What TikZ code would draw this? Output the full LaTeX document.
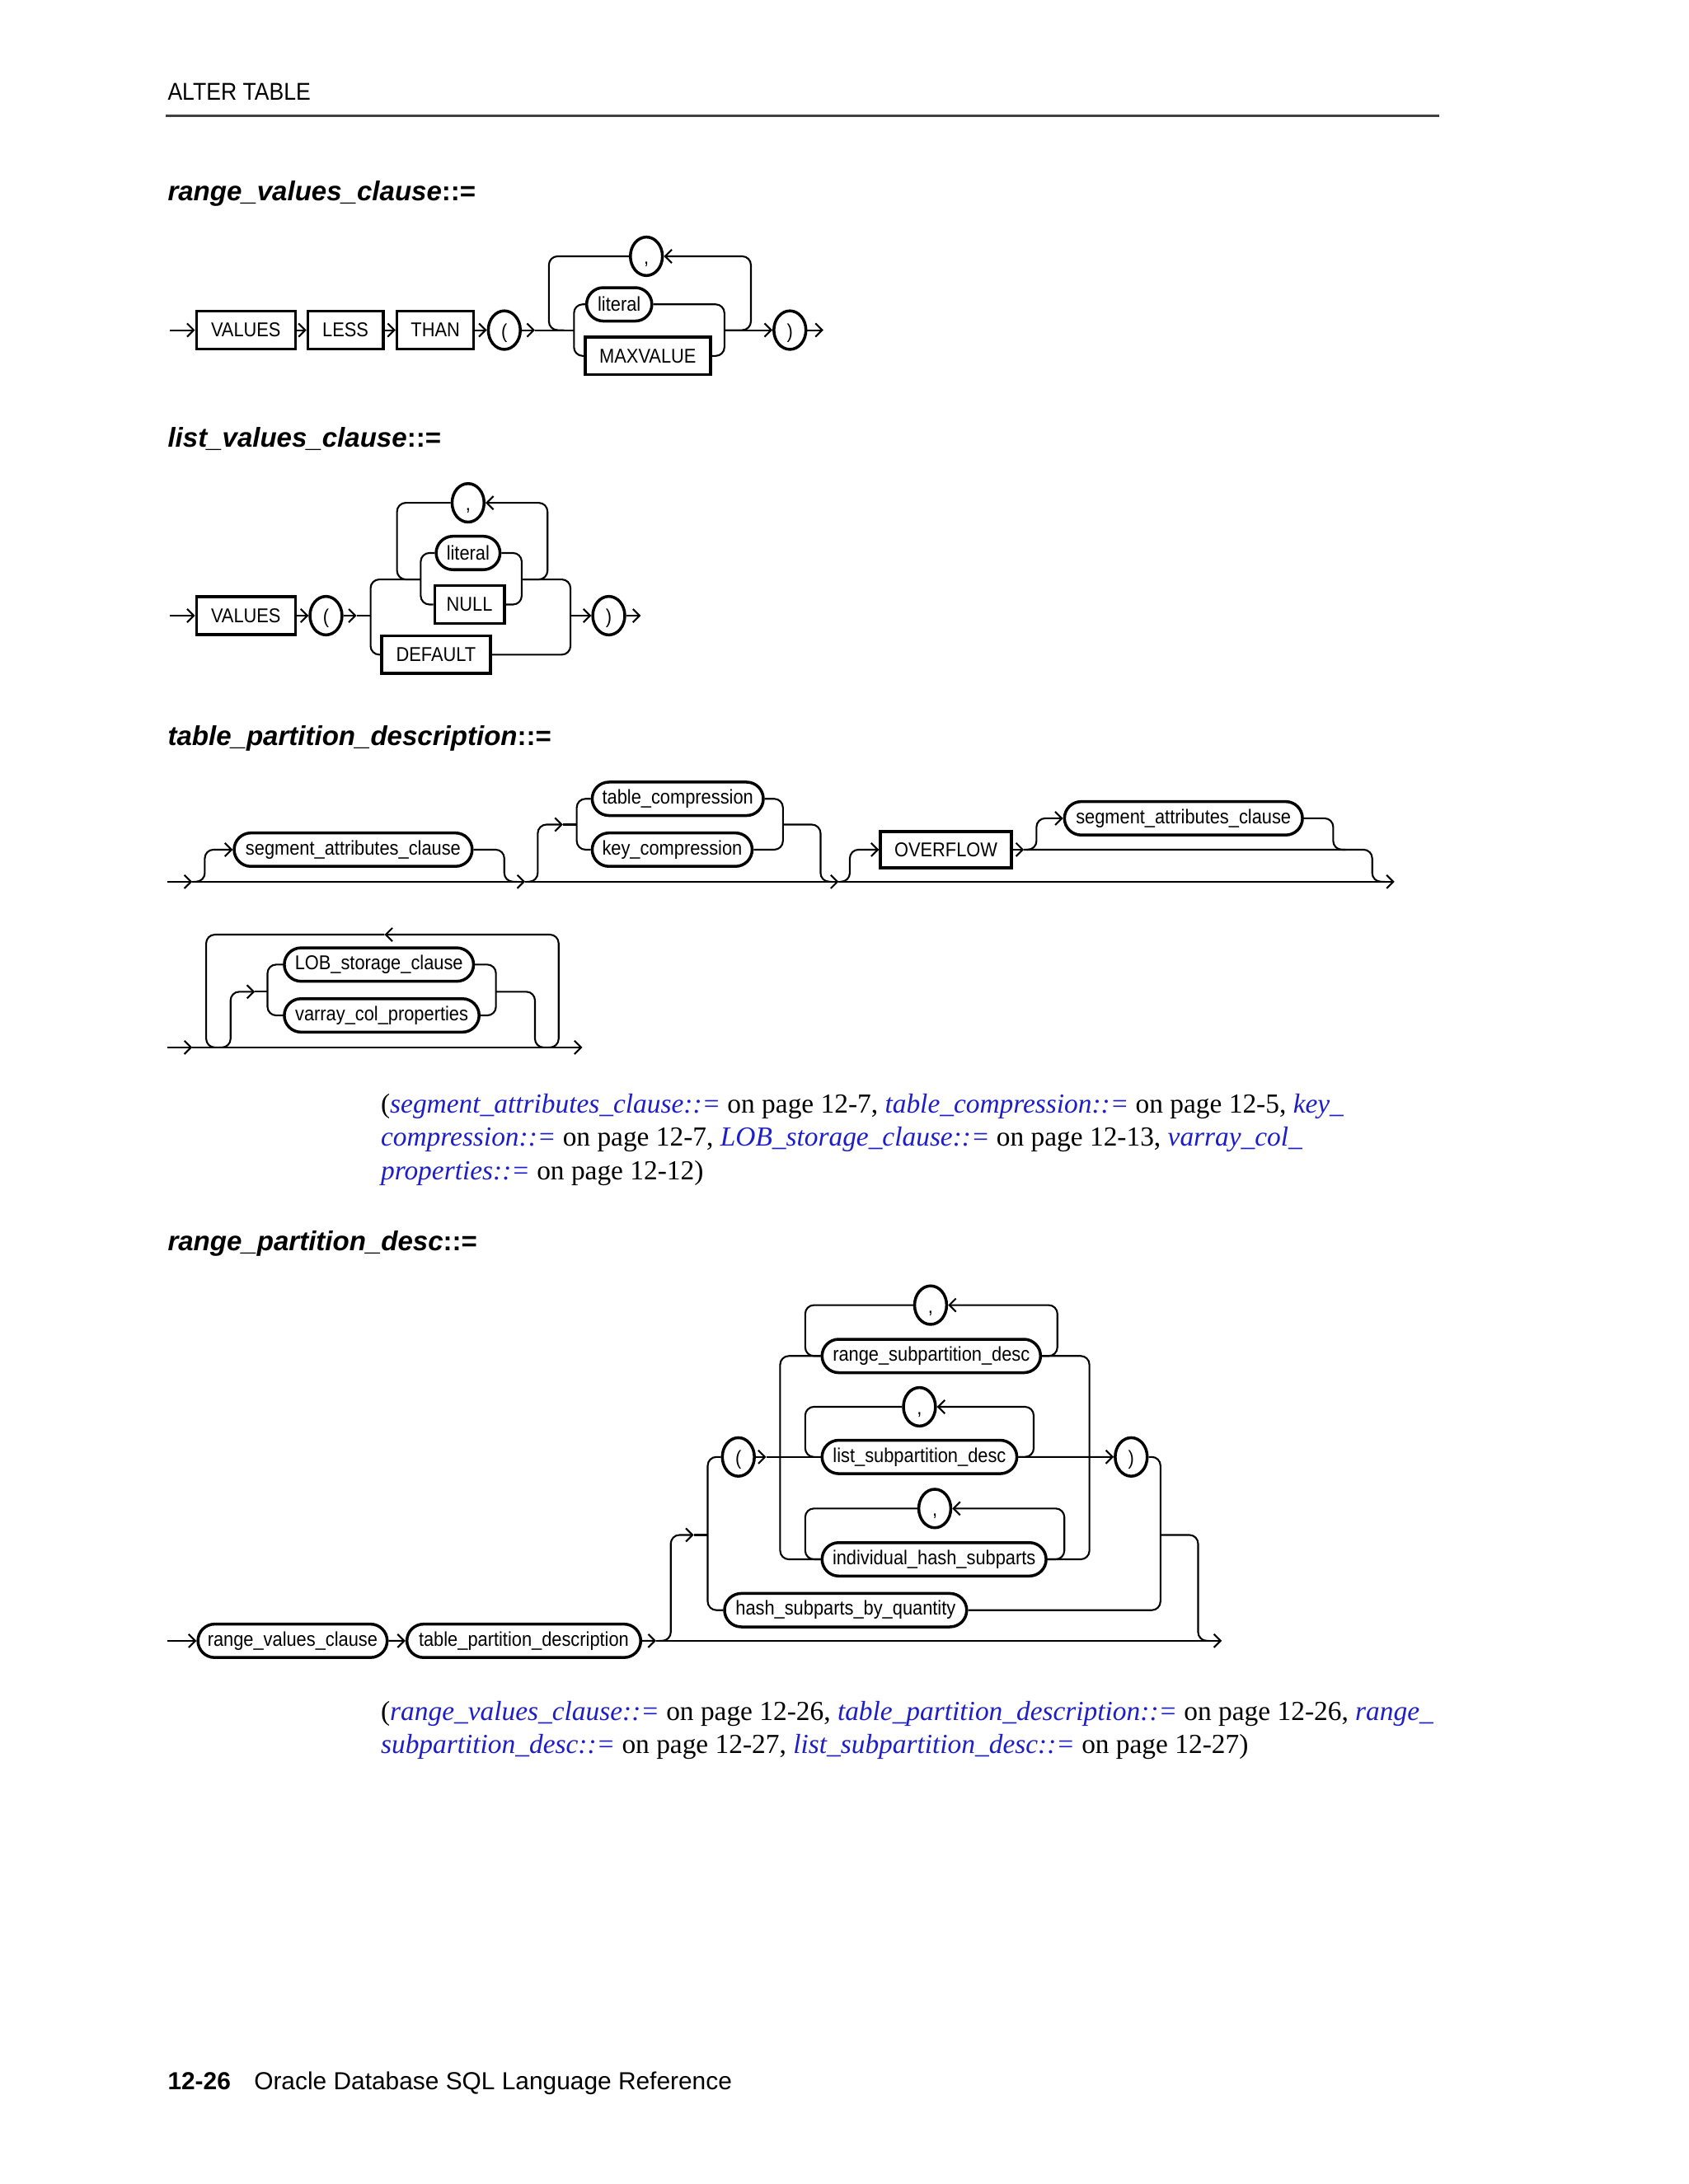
\documentclass[tikz,border=0pt]{standalone}
\usepackage{fontspec}
\usepackage{xcolor}
\usepackage{tikz}
\usetikzlibrary{arrows.meta,shapes.geometric,shapes.misc}
\setsansfont{Liberation Sans}
\newfontfamily\railfont[FakeStretch=0.9]{Liberation Sans}
\newfontfamily\notefont{Liberation Serif}
\newcommand\rpx{0.16898mm}
\definecolor{linkblue}{RGB}{30,30,200}
\newcommand\lnk[1]{\textcolor{linkblue}{\itshape #1}}

\tikzset{
  rail/.style={line width=0.6pt, rounded corners=3pt},
  railtip/.style={-{Straight Barb[length=2.3pt,width=4.6pt]}},
  kw/.style={draw, line width=1pt, rectangle, minimum height=27*\rpx, inner xsep=1pt, inner ysep=0pt, font=\railfont\fontsize{6.9}{8}\selectfont},
  nt/.style={draw, line width=1pt, rounded rectangle, minimum height=24*\rpx, inner xsep=1pt, inner ysep=0pt, font=\railfont\fontsize{6.9}{8}\selectfont},
  pun/.style={draw, line width=1pt, ellipse, minimum width=23*\rpx, minimum height=26*\rpx, inner sep=0pt, text height=0.74em, text depth=0.2em, font=\railfont\fontsize{6.9}{8}\selectfont},
  ttl/.style={anchor=base west, inner sep=0pt, font=\sffamily\bfseries\fontsize{9.4}{11}\selectfont},
  note/.style={anchor=base west, inner sep=0pt, font=\notefont\fontsize{9.5}{11}\selectfont},
}

\begin{document}
\begin{tikzpicture}[x=0.16898mm, y=-0.16898mm]
  % Page area
  \fill[white] (0,0) rectangle (1212,1568);
  \useasboundingbox (0,0) rectangle (1212,1568);
  % Running header
  \node[anchor=base west, inner sep=0pt, font=\railfont\fontsize{8.4}{10}\selectfont] (hd) at (120,72) {ALTER TABLE};
  \draw[line width=0.7pt, black!75] (119,83) -- (1033,83);

  % ---------- range_values_clause ----------
  \node[ttl] (t1) at (120,144) {{\itshape range\_values\_clause}::=};
  \node[kw, minimum width=71*\rpx] (rv1) at (176.5,237) {VALUES};
  \node[kw, minimum width=54*\rpx] (rv2) at (248,237) {LESS};
  \node[kw, minimum width=55*\rpx] (rv3) at (312.5,237) {THAN};
  \node[pun] (rv4) at (362,237) {(};
  \node[nt, minimum width=51*\rpx] (rv5) at (444.5,218.5) {literal};
  \node[kw, minimum width=90*\rpx] (rv6) at (465,255.5) {MAXVALUE};
  \node[pun] (rv7) at (464,184) {,};
  \node[pun] (rv8) at (567,237) {)};
  \coordinate (rvin) at (122,237);
  \coordinate (rvout) at (591,237);
  \draw[rail,railtip] (rvin) -- (rv1);
  \draw[rail,railtip] (rv1) -- (rv2);
  \draw[rail,railtip] (rv2) -- (rv3);
  \draw[rail,railtip] (rv3) -- (rv4);
  \draw[rail,railtip] (rv4) -- (384,237);
  \draw[rail] (384,237) -- (412,237);
  \draw[rail] (rv5.west) -| (412,237) |- (rv6.west);
  \draw[rail] (rv5.east) -| (520,237) |- (rv6.east);
  % repeat loop
  \draw[rail,railtip] (520,237) -| (539,184) -- (rv7.east);
  \draw[rail] (rv7.west) -| (394,237) -- (405,237);
  \draw[rail,railtip] (520,237) -- (rv8);
  \draw[rail,railtip] (rv8) -- (rvout);

  % ---------- list_values_clause ----------
  \node[ttl] (t2) at (120,321) {{\itshape list\_values\_clause}::=};
  \node[kw, minimum width=71*\rpx] (lv1) at (176.5,442) {VALUES};
  \node[pun] (lv2) at (234,442) {(};
  \node[nt, minimum width=50*\rpx] (lv3) at (336,397) {literal};
  \node[kw, minimum width=50*\rpx] (lv4) at (337,434) {NULL};
  \node[pun] (lv5) at (336,361) {,};
  \node[kw, minimum width=78*\rpx] (lv6) at (313,470) {DEFAULT};
  \node[pun] (lv7) at (437,442) {)};
  \coordinate (lvin) at (122,442);
  \coordinate (lvout) at (460,442);
  \draw[rail,railtip] (lvin) -- (lv1);
  \draw[rail,railtip] (lv1) -- (lv2);
  \draw[rail,railtip] (lv2) -- (256,442);
  \draw[rail] (256,442) -- (266,442);
  \draw[rail] (302,416) -| (266,442) |- (lv6.west);
  \draw[rail] (lv3.west) -| (302,416) |- (lv4.west);
  \draw[rail] (lv5.west) -| (285,416) -- (302,416);
  \draw[rail] (lv3.east) -| (374.5,416) |- (lv4.east);
  \draw[rail,railtip] (374.5,416) -| (393,361) -- (lv5.east);
  \draw[rail] (374.5,416) -| (409.5,442) |- (lv6.east);
  \draw[rail,railtip] (409.5,442) -- (lv7);
  \draw[rail,railtip] (lv7) -- (lvout);

  % ---------- table_partition_description ----------
  \node[ttl] (t3) at (120,535) {{\itshape table\_partition\_description}::=};
  \node[nt, minimum width=175*\rpx] (tp1) at (253.5,610) {segment\_attributes\_clause};
  \node[nt, minimum width=127*\rpx] (tp2) at (486.5,573.5) {table\_compression};
  \node[nt, minimum width=119*\rpx] (tp3) at (482.5,610) {key\_compression};
  \node[kw, minimum width=94*\rpx, minimum height=26*\rpx] (tp4) at (679,610) {OVERFLOW};
  \node[nt, minimum width=175*\rpx] (tp5) at (849.5,587.5) {segment\_attributes\_clause};
  \coordinate (tpin) at (120,633);
  \coordinate (tpout) at (1001,633);
  \draw[rail,railtip] (tpin) -- (138,633);
  \draw[rail,railtip] (138,633) -- (377,633);
  \draw[rail,railtip] (377,633) -- (602,633);
  \draw[rail,railtip] (602,633) -- (tpout);
  % optional segment attributes
  \draw[rail,railtip] (139,633) -| (147,610) -- (tp1.west);
  \draw[rail] (tp1.east) -| (362,633) -- (371,633);
  % optional compression
  \draw[rail,railtip] (378,633) -| (386,592) -- (404,592);
  \draw[rail] (404,592) -- (414,592);
  \draw[rail] (tp2.west) -| (414,592) |- (tp3.west);
  \draw[rail] (tp2.east) -| (562,592) |- (tp3.east);
  \draw[rail] (562,592) -| (589,633) -- (597,633);
  % optional overflow
  \draw[rail,railtip] (603,633) -| (610,610) -- (tp4.west);
  \draw[rail,railtip] (tp4.east) -- (735,610);
  \draw[rail] (735,610) -| (985,633) -- (994,633);
  \draw[rail,railtip] (737,610) -| (744,587.5) -- (tp5.west);
  \draw[rail] (tp5.east) -| (957,610) -- (966,610);

  % second row: LOB / varray loop
  \node[nt, minimum width=140*\rpx] (lb1) at (272,692.5) {LOB\_storage\_clause};
  \node[nt, minimum width=144*\rpx] (lb2) at (274,729) {varray\_col\_properties};
  \coordinate (lbin) at (120,752);
  \coordinate (lbout) at (418,752);
  \draw[rail,railtip] (lbin) -- (138,752);
  \draw[rail,railtip] (138,752) -- (lbout);
  \draw[rail,railtip] (392,752) -| (401,671) -- (276,671);
  \draw[rail] (276,671) -| (148,752) -- (157,752);
  \draw[rail,railtip] (157,752) -| (165.5,712) -- (183,712);
  \draw[rail] (183,712) -- (192,712);
  \draw[rail] (lb1.west) -| (192,712) |- (lb2.west);
  \draw[rail] (lb1.east) -| (356,712) |- (lb2.east);
  \draw[rail] (356,712) -| (384,752) -- (392,752);

  % cross references
  \node[note] (n1a) at (273,799) {(\lnk{segment\_attributes\_clause::=} on page 12-7, \lnk{table\_compression::=} on page 12-5, \lnk{key\_}};
  \node[note] (n1b) at (273,823) {\lnk{compression::=} on page 12-7, \lnk{LOB\_storage\_clause::=} on page 12-13, \lnk{varray\_col\_}};
  \node[note] (n1c) at (273,847) {\lnk{properties::=} on page 12-12)};

  % ---------- range_partition_desc ----------
  \node[ttl] (t4) at (120,898) {{\itshape range\_partition\_desc}::=};
  \node[nt, minimum width=140*\rpx] (rp1) at (210,1178) {range\_values\_clause};
  \node[nt, minimum width=172*\rpx] (rp2) at (376,1178) {table\_partition\_description};
  \node[pun] (rp3) at (530,1046) {(};
  \node[nt, minimum width=161*\rpx] (rp4) at (668.5,973.5) {range\_subpartition\_desc};
  \node[pun] (rpc1) at (668,937) {,};
  \node[nt, minimum width=144*\rpx] (rp5) at (660,1046) {list\_subpartition\_desc};
  \node[pun] (rpc2) at (660,1010) {,};
  \node[nt, minimum width=165*\rpx] (rp6) at (670.5,1119.5) {individual\_hash\_subparts};
  \node[pun] (rpc3) at (671,1083) {,};
  \node[pun] (rp7) at (812,1046) {)};
  \node[nt, minimum width=178*\rpx] (rp8) at (607,1156) {hash\_subparts\_by\_quantity};
  \coordinate (rpin) at (120,1178);
  \coordinate (rpout) at (877,1178);
  \draw[rail,railtip] (rpin) -- (rp1);
  \draw[rail,railtip] (rp1) -- (rp2);
  \draw[rail,railtip] (rp2) -- (471,1178);
  \draw[rail,railtip] (471,1178) -- (rpout);
  % optional subpartition part
  \draw[rail,railtip] (473,1178) -| (481.5,1102) -- (498,1102);
  \draw[rail] (498,1102) -- (508,1102);
  \draw[rail] (rp3.west) -| (508,1102) |- (rp8.west);
  \draw[rail,railtip] (rp3) -- (550,1046);
  \draw[rail] (550,1046) -- (rp5.west);
  \draw[rail] (rp4.west) -| (560,1046) |- (rp6.west);
  \draw[rail] (rp4.east) -| (782,1046) |- (rp6.east);
  % comma loops
  \draw[rail] (rpc1.west) -| (578,973.5) -- (rp4.west);
  \draw[rail,railtip] (rp4.east) -| (759,937) -- (rpc1.east);
  \draw[rail] (rpc2.west) -| (578,1046) -- (rp5.west);
  \draw[rail,railtip] (rp5.east) -| (742,1010) -- (rpc2.east);
  \draw[rail] (rpc3.west) -| (578,1119.5) -- (rp6.west);
  \draw[rail,railtip] (rp6.east) -| (764,1083) -- (rpc3.east);
  \draw[rail,railtip] (rp5) -- (rp7);
  \draw[rail] (rp7.east) -| (833,1102) |- (rp8.east);
  \draw[rail] (833,1102) -| (860,1178) -- (868,1178);

  % cross references
  \node[note] (n2a) at (273,1235) {(\lnk{range\_values\_clause::=} on page 12-26, \lnk{table\_partition\_description::=} on page 12-26, \lnk{range\_}};
  \node[note] (n2b) at (273,1259) {\lnk{subpartition\_desc::=} on page 12-27, \lnk{list\_subpartition\_desc::=} on page 12-27)};

  % Footer
  \node[anchor=base west, inner sep=0pt, font=\sffamily\bfseries\fontsize{8.5}{10}\selectfont] (pg) at (120,1500) {12-26};
  \node[anchor=base west, inner sep=0pt, font=\sffamily\fontsize{8.5}{10}\selectfont] (bk) at (182,1500) {Oracle Database SQL Language Reference};
\end{tikzpicture}
\end{document}
